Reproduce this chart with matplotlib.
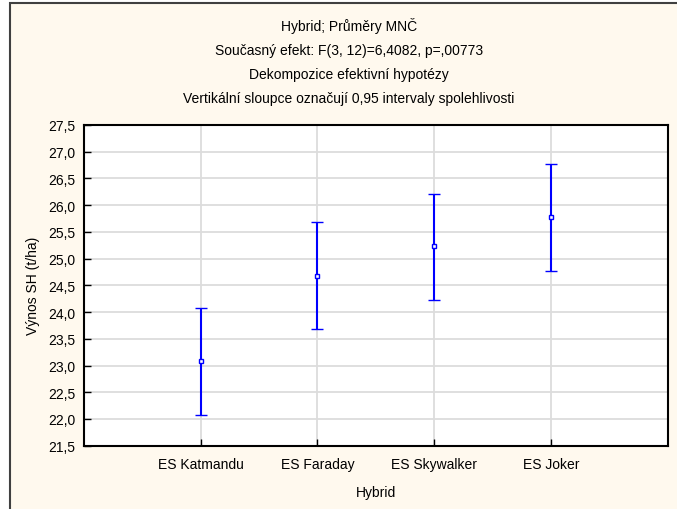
import numpy as np
import matplotlib.pyplot as plt
from matplotlib.patches import Rectangle
from matplotlib.ticker import FuncFormatter

plt.rcParams['font.family'] = ['Liberation Sans', 'DejaVu Sans']

hybrids = ['ES Katmandu', 'ES Faraday', 'ES Skywalker', 'ES Joker']
means = [23.09, 24.68, 25.23, 25.78]
lower = [22.08, 23.69, 24.22, 24.77]
upper = [24.07, 25.68, 26.20, 26.77]

titles = ['Hybrid; Průměry MNČ',
          'Současný efekt: F(3, 12)=6,4082, p=,00773',
          'Dekompozice efektivní hypotézy',
          'Vertikální sloupce označují 0,95 intervaly spolehlivosti']

W, H = 677, 510
fig = plt.figure(figsize=(W / 100, H / 100), dpi=100)
fig.patch.set_facecolor('white')

# cream panel with dark border on left/top
fig.patches.append(Rectangle((10 / W, -0.01), 1.0, 1 - 4 / H + 0.01, transform=fig.transFigure,
                             facecolor='#fff9ee', edgecolor='#404040', linewidth=1.5, zorder=-10))

ax = fig.add_axes([84 / W, 1 - 446.7 / H, (667.7 - 84) / W, (446.7 - 126) / H])
ax.set_facecolor('white')

x = np.arange(1, len(hybrids) + 1)
m = np.array(means)
yerr = np.vstack([m - np.array(lower), np.array(upper) - m])
ax.errorbar(x, m, yerr=yerr, fmt='s', color='#0000ff', ecolor='#0000ff', elinewidth=1.5,
            capsize=4.5, capthick=1.5, markersize=3, markerfacecolor='white',
            markeredgewidth=1, zorder=3)

ax.set_xlim(0, 5)
ax.set_ylim(21.5, 27.5)
ax.set_xticks(x)
ax.set_xticklabels(hybrids)
ax.set_yticks(np.arange(21.5, 27.51, 0.5))
ax.yaxis.set_major_formatter(FuncFormatter(lambda v, p: f'{v:.1f}'.replace('.', ',')))
ax.grid(True, color='#dcdcdc', linewidth=1.3)
ax.set_axisbelow(True)
ax.tick_params(direction='in', length=5, width=1, labelsize=10, colors='black', pad=8)
ax.tick_params(axis='y', pad=6)
for s in ax.spines.values():
    s.set_linewidth(1.5)
    s.set_color('black')

ax.set_xlabel('Hybrid', fontsize=10, labelpad=10)
ax.set_ylabel('Výnos SH (t/ha)', fontsize=10, labelpad=6)

for i, t in enumerate(titles):
    fig.text(349 / W, 1 - (26 + 24.5 * i) / H, t, ha='center', va='center', fontsize=10)

fig.savefig('out.png', dpi=100)
